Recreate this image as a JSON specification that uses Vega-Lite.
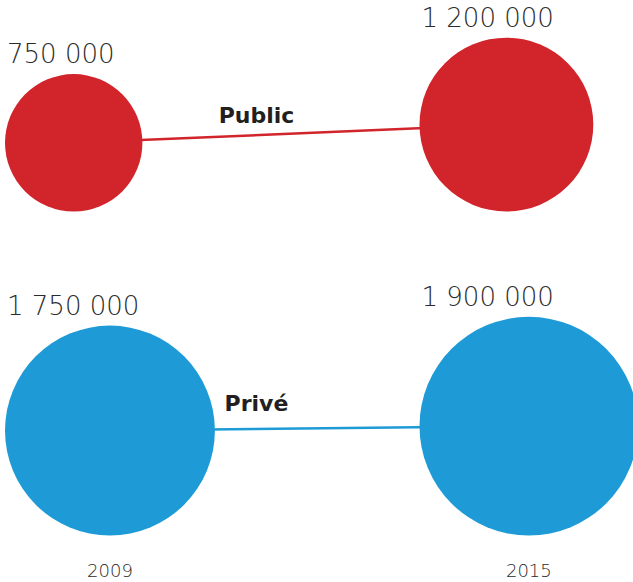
{
  "$schema": "https://vega.github.io/schema/vega-lite/v6.json",
  "width": 633,
  "height": 582,
  "autosize": {"type": "none"},
  "padding": 0,
  "background": "#ffffff",
  "config": {
    "view": {"stroke": null},
    "locale": {"number": {"decimal": ",", "thousands": " ", "grouping": [3], "currency": ["", " €"]}}
  },
  "data": {
    "values": [
      {"serie": "Public", "annee": 2009, "valeur": 750000},
      {"serie": "Public", "annee": 2015, "valeur": 1200000},
      {"serie": "Privé", "annee": 2009, "valeur": 1750000},
      {"serie": "Privé", "annee": 2015, "valeur": 1900000}
    ]
  },
  "encoding": {
    "x": {
      "field": "annee", "type": "ordinal", "axis": null,
      "scale": {"type": "band", "domain": [2009, 2015], "paddingInner": 0.57286, "paddingOuter": 0.05, "align": 0.1206, "round": false}
    },
    "y": {
      "field": "serie", "type": "nominal", "axis": null,
      "scale": {"type": "band", "domain": ["Public", "Privé"], "paddingInner": 0.9837, "paddingOuter": 0.39, "align": 0.8369, "round": false}
    }
  },
  "layer": [
    {
      "mark": {"type": "line", "strokeWidth": 2.5},
      "encoding": {
        "xOffset": {"field": "valeur", "type": "quantitative", "scale": {"type": "sqrt", "domain": [0, 1900000], "range": [0, 109.35], "nice": false}},
        "yOffset": {"field": "valeur", "type": "quantitative", "scale": {"type": "sqrt", "domain": [0, 1900000], "range": [0, -109.35], "nice": false}},
        "color": {"field": "serie", "type": "nominal", "legend": null, "scale": {"domain": ["Public", "Privé"], "range": ["#d1242b", "#1e9bd7"]}},
        "detail": {"field": "serie"}
      }
    },
    {
      "mark": {"type": "circle", "opacity": 1, "strokeWidth": 0},
      "encoding": {
        "xOffset": {"field": "valeur", "type": "quantitative", "scale": {"type": "sqrt", "domain": [0, 1900000], "range": [0, 109.35], "nice": false}},
        "yOffset": {"field": "valeur", "type": "quantitative", "scale": {"type": "sqrt", "domain": [0, 1900000], "range": [0, -109.35], "nice": false}},
        "size": {"field": "valeur", "type": "quantitative", "legend": null, "scale": {"type": "linear", "domain": [0, 1900000], "range": [0, 47830], "nice": false}},
        "color": {"field": "serie", "type": "nominal", "legend": null, "scale": {"domain": ["Public", "Privé"], "range": ["#d1242b", "#1e9bd7"]}}
      }
    },
    {
      "mark": {"type": "text", "align": "left", "baseline": "alphabetic", "dx": 2, "dy": -11, "font": "DejaVu Sans", "fontWeight": 200, "fontSize": 26, "color": "#2b2b2b"},
      "encoding": {
        "x": {"field": "annee", "type": "ordinal", "bandPosition": 0},
        "yOffset": {"field": "valeur", "type": "quantitative", "scale": {"type": "sqrt", "domain": [0, 1900000], "range": [0, -218.7], "nice": false}},
        "text": {"field": "valeur", "type": "quantitative", "format": ",d"}
      }
    },
    {
      "transform": [{"filter": "datum.annee == 2009"}],
      "mark": {"type": "text", "align": "center", "baseline": "alphabetic", "dx": 251.5, "dy": -19.7, "font": "DejaVu Sans", "fontWeight": "bold", "fontSize": 22, "color": "#231f20"},
      "encoding": {
        "x": {"field": "annee", "type": "ordinal", "bandPosition": 0},
        "yOffset": {"field": "valeur", "type": "quantitative", "scale": {"type": "sqrt", "domain": [0, 1900000], "range": [0, -109.35], "nice": false}},
        "text": {"field": "serie", "type": "nominal"}
      }
    },
    {
      "transform": [{"filter": "datum.serie == 'Privé'"}],
      "mark": {"type": "text", "align": "center", "baseline": "alphabetic", "dy": 41, "font": "DejaVu Sans", "fontWeight": 200, "fontSize": 18, "color": "#2b2b2b"},
      "encoding": {
        "xOffset": {"field": "valeur", "type": "quantitative", "scale": {"type": "sqrt", "domain": [0, 1900000], "range": [0, 109.35], "nice": false}},
        "y": {"field": "serie", "type": "nominal", "bandPosition": 0},
        "text": {"field": "annee", "type": "nominal"}
      }
    }
  ],
  "resolve": {"scale": {"yOffset": "independent"}}
}
